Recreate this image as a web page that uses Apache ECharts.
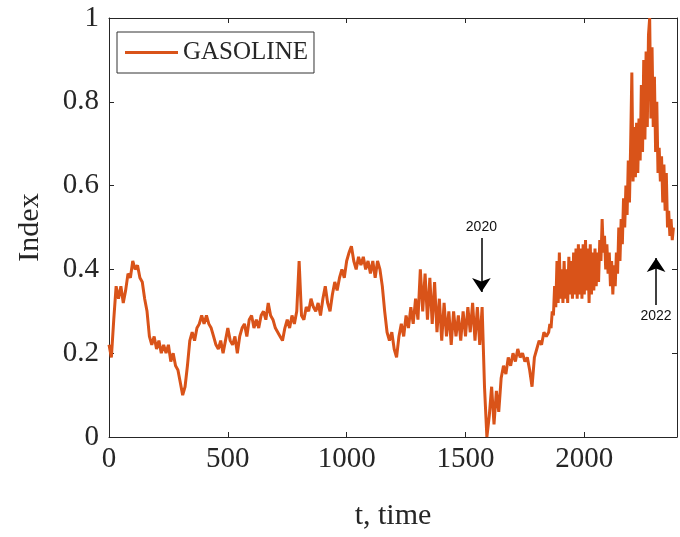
<!DOCTYPE html>
<html>
<head>
<meta charset="utf-8">
<script src="https://cdn.jsdelivr.net/npm/echarts@6/dist/echarts.min.js"></script>
<style>
  html, body { margin: 0; padding: 0; background: #fff; }
  #chart { width: 680px; height: 537px; }
</style>
</head>
<body>
<div id="chart"></div>
<script>
// gasoline index
// t = 0 .. 1840, one value every 10 steps
var earlyStep = 10;
var gasolineEarly = [
  0.22, 0.19, 0.28, 0.36, 0.33, 0.36, 0.32, 0.35, 0.39, 0.38,
  0.42, 0.40, 0.41, 0.38, 0.37, 0.33, 0.30, 0.24, 0.22, 0.24,
  0.21, 0.23, 0.20, 0.22, 0.20, 0.22, 0.18, 0.20, 0.17, 0.16,
  0.13, 0.10, 0.12, 0.17, 0.23, 0.25, 0.23, 0.26,
  0.27, 0.29, 0.27, 0.29, 0.27, 0.26, 0.24, 0.22, 0.21, 0.23,
  0.20, 0.23, 0.26, 0.23, 0.22, 0.24, 0.20, 0.24, 0.26, 0.27,
  0.24, 0.28, 0.29, 0.26, 0.28, 0.26, 0.29, 0.30, 0.28, 0.32,
  0.29, 0.28, 0.26, 0.25, 0.24, 0.23, 0.26, 0.28, 0.26, 0.29,
  0.27, 0.30, 0.42, 0.29, 0.28, 0.31, 0.30, 0.33, 0.31, 0.30,
  0.32, 0.29, 0.33, 0.36, 0.32, 0.30, 0.34, 0.37, 0.35, 0.38,
  0.40, 0.38, 0.42, 0.44, 0.455, 0.42, 0.40, 0.43, 0.41, 0.43,
  0.40, 0.42, 0.39, 0.42, 0.38, 0.42, 0.40, 0.36, 0.30, 0.25,
  0.23, 0.25, 0.21, 0.19, 0.24, 0.27, 0.24, 0.29, 0.26, 0.31,
  0.27, 0.33, 0.28, 0.40, 0.30, 0.39, 0.28, 0.38, 0.27, 0.37,
  0.25, 0.33, 0.23, 0.32, 0.24, 0.30, 0.22, 0.30, 0.24, 0.29,
  0.23, 0.30, 0.24, 0.31, 0.25, 0.32, 0.23, 0.31, 0.22, 0.31,
  0.12, 0.00,
  0.05, 0.12, 0.03, 0.11, 0.06, 0.14, 0.17, 0.15, 0.19, 0.17,
  0.20, 0.18, 0.21, 0.19, 0.20, 0.18, 0.19, 0.16, 0.12, 0.19,
  0.21, 0.23, 0.22, 0.25, 0.24
];

// t = 1850 .. 2375, one value every 5 steps (the volatile stretch)
var lateStart = 1850;
var lateStep = 5;
var gasolineLate = [
  0.25, 0.27, 0.26, 0.30, 0.29, 0.36, 0.31, 0.42, 0.32, 0.44,
  0.33, 0.40, 0.32, 0.42, 0.33, 0.40, 0.32, 0.43, 0.34, 0.42,
  0.33, 0.44, 0.34, 0.45, 0.33, 0.46, 0.34, 0.45, 0.33, 0.46,
  0.34, 0.47, 0.35, 0.45, 0.32, 0.46, 0.34, 0.44, 0.35, 0.45,
  0.36, 0.44, 0.37, 0.47, 0.42, 0.52, 0.44, 0.48, 0.40, 0.46,
  0.39, 0.44, 0.36, 0.42, 0.34, 0.41, 0.36, 0.44, 0.39, 0.50,
  0.42, 0.52, 0.46, 0.57, 0.50, 0.60, 0.53, 0.66, 0.56, 0.70,
  0.87, 0.61, 0.74, 0.62, 0.75, 0.63, 0.76, 0.66, 0.84, 0.68,
  0.90, 0.71, 0.92, 0.74, 0.96, 1.00, 0.76, 0.93, 0.74, 0.86,
  0.68, 0.80, 0.63, 0.69, 0.61, 0.67, 0.56, 0.65, 0.54, 0.63,
  0.50, 0.54, 0.48, 0.52, 0.47, 0.50
];

var xTicks = [0, 500, 1000, 1500, 2000];
var yTicks = [0, 0.2, 0.4, 0.6, 0.8, 1];

// annotations: [label, t, arrow tail, arrow tip]
var notes = [
  ['2020', 1567, 0.475, 0.346],
  ['2022', 2302, 0.315, 0.427]
];

var seriesData = gasolineEarly.map(function (v, i) { return [i * earlyStep, v]; })
  .concat(gasolineLate.map(function (v, i) { return [lateStart + i * lateStep, v]; }));

var myChart = echarts.init(document.getElementById('chart'), null, { renderer: 'canvas' });

var serif = 'Liberation Serif, Times New Roman, serif';
var ink = '#262626';

var baseX = {
  type: 'value',
  min: 0,
  max: 2390,
  interval: 500,
  axisLine: { show: true, onZero: false, lineStyle: { color: ink, width: 1 } },
  axisTick: { show: true, inside: true, length: 5, lineStyle: { color: ink } },
  splitLine: { show: false }
};
var baseY = {
  type: 'value',
  min: 0,
  max: 1,
  interval: 0.2,
  axisLine: { show: true, onZero: false, lineStyle: { color: ink, width: 1 } },
  axisTick: { show: true, inside: true, length: 5, lineStyle: { color: ink } },
  splitLine: { show: false }
};

var option = {
  backgroundColor: '#fff',
  animation: false,
  grid: { left: 109, right: 3, top: 18, bottom: 100, containLabel: false },
  legend: {
    data: ['GASOLINE'],
    left: 117,
    top: 32,
    icon: 'rect',
    itemWidth: 53,
    itemHeight: 3,
    padding: [8, 6, 8, 8],
    borderColor: '#333',
    borderWidth: 1,
    textStyle: { color: ink, fontFamily: serif, fontSize: 25 }
  },
  xAxis: [
    Object.assign({}, baseX, {
      position: 'bottom',
      name: 't, time',
      nameLocation: 'middle',
      nameGap: 64,
      nameTextStyle: { color: ink, fontFamily: serif, fontSize: 30 },
      axisLabel: {
        color: ink, fontFamily: serif, fontSize: 29, margin: 8,
        formatter: function (v) { return xTicks.indexOf(v) >= 0 ? String(v) : ''; }
      }
    }),
    Object.assign({}, baseX, { position: 'top', axisLabel: { show: false } })
  ],
  yAxis: [
    Object.assign({}, baseY, {
      position: 'left',
      name: 'Index',
      nameLocation: 'middle',
      nameGap: 64,
      nameTextStyle: { color: ink, fontFamily: serif, fontSize: 30 },
      axisLabel: {
        color: ink, fontFamily: serif, fontSize: 29, margin: 10,
        formatter: function (v) {
          var r = Math.round(v * 10) / 10;
          return yTicks.indexOf(r) >= 0 ? String(r) : '';
        }
      }
    }),
    Object.assign({}, baseY, { position: 'right', axisLabel: { show: false } })
  ],
  series: [
    {
      name: 'GASOLINE',
      type: 'line',
      data: seriesData,
      showSymbol: false,
      symbol: 'none',
      color: '#D95319',
      lineStyle: { color: '#D95319', width: 3 },
      markLine: {
        silent: true,
        symbol: ['none', 'arrow'],
        symbolSize: 14,
        lineStyle: { color: '#000', width: 1.5, type: 'solid' },
        label: {
          show: true,
          position: 'start',
          color: '#111',
          fontFamily: 'Liberation Sans, Arial, sans-serif',
          fontSize: 14,
          distance: 4
        },
        data: notes.map(function (n) {
          return [
            { coord: [n[1], n[2]], label: { formatter: n[0] } },
            { coord: [n[1], n[3]] }
          ];
        })
      }
    }
  ]
};

myChart.setOption(option);

window.addEventListener('resize', function () {
  myChart.resize();
});
</script>
</body>
</html>
